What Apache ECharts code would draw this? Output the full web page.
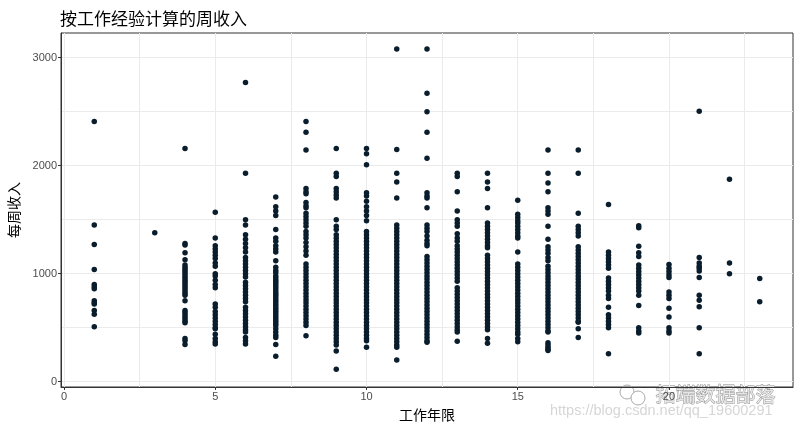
<!DOCTYPE html>
<html>
<head>
<meta charset="utf-8">
<script src="https://cdn.jsdelivr.net/npm/echarts@6/dist/echarts.min.js"></script>
<style>
html,body{margin:0;padding:0;background:#fff;}
#chart{width:800px;height:431px;}
</style>
</head>
<body>
<div id="chart"></div>
<script>
// ---- data ----
const chartTitle = '按工作经验计算的周收入';
const xTitle = '工作年限';
const yTitle = '每周收入';
const xTicks = [0, 5, 10, 15, 20];
const yTicks = [0, 1000, 2000, 3000];

const years = [1, 3, 4, 5, 6, 7, 8, 9, 10, 11, 12, 13, 14, 15, 16, 17, 18, 19, 20, 21, 22, 23];

const inc1 = [2410, 1450, 1270, 1040, 900, 880, 860, 750, 730, 720, 660, 625, 510];
const inc3 = [1380];
const inc4 = [2160, 1280, 1265, 1195, 1130, 1080, 1060, 1040, 1020, 1000, 980, 960, 940, 920, 900, 880, 860, 840, 820, 800, 750, 660, 640, 620, 600, 580, 560, 545, 400, 380, 345];
const inc5 = [1570, 1330, 1260, 1230, 1200, 1170, 1140, 1100, 1070, 1000, 980, 940, 900, 870, 720, 690, 650, 620, 590, 560, 530, 500, 490, 440, 400, 370, 350];
const inc6 = [2770, 1930, 1500, 1450, 1360, 1320, 1280, 1240, 1200, 1150, 1120, 1090, 1060, 1030, 1000, 970, 920, 890, 860, 830, 800, 770, 740, 690, 660, 630, 600, 570, 540, 510, 480, 460, 410, 380, 350];
const inc7 = [1710, 1620, 1580, 1540, 1410, 1330, 1300, 1260, 1230, 1200, 1120, 1060, 1030, 1010, 980, 960, 940, 920, 900, 880, 860, 840, 820, 800, 780, 760, 740, 720, 700, 680, 660, 640, 620, 600, 580, 560, 540, 520, 490, 460, 430, 410, 345, 235];
const inc8 = [2410, 2310, 2145, 1790, 1760, 1740, 1660, 1630, 1610, 1560, 1530, 1500, 1470, 1440, 1390, 1360, 1330, 1290, 1250, 1210, 1170, 1090, 1060, 1030, 1000, 970, 940, 910, 880, 850, 820, 790, 760, 730, 700, 670, 640, 610, 580, 550, 520, 425];
const inc9 = [2160, 1930, 1900, 1790, 1760, 1730, 1700, 1500, 1440, 1410, 1360, 1330, 1300, 1270, 1240, 1210, 1180, 1150, 1120, 1090, 1060, 1030, 1000, 970, 940, 910, 880, 850, 820, 790, 760, 730, 700, 670, 640, 610, 580, 550, 520, 490, 460, 430, 400, 370, 340, 285, 115];
const inc10 = [2160, 2110, 2010, 1750, 1720, 1670, 1620, 1580, 1540, 1490, 1390, 1360, 1330, 1300, 1270, 1240, 1210, 1180, 1150, 1120, 1090, 1060, 1030, 1000, 970, 940, 910, 880, 850, 820, 790, 760, 730, 700, 670, 640, 610, 580, 550, 520, 490, 460, 430, 400, 380, 320];
const inc11 = [3080, 2150, 1930, 1850, 1700, 1450, 1420, 1390, 1360, 1330, 1300, 1270, 1240, 1210, 1180, 1150, 1120, 1090, 1060, 1030, 1000, 970, 940, 910, 880, 850, 820, 790, 760, 730, 700, 670, 640, 610, 580, 550, 520, 490, 460, 430, 400, 370, 340, 320, 200];
const inc12 = [3080, 2670, 2500, 2310, 2070, 1750, 1720, 1700, 1610, 1450, 1420, 1390, 1350, 1310, 1280, 1260, 1160, 1130, 1100, 1070, 1040, 1010, 980, 950, 920, 890, 860, 830, 800, 770, 740, 710, 680, 650, 620, 590, 560, 530, 500, 470, 440, 410, 380, 365];
const inc13 = [1930, 1900, 1760, 1580, 1500, 1470, 1440, 1370, 1330, 1300, 1260, 1230, 1200, 1170, 1140, 1110, 1080, 1050, 1020, 990, 960, 930, 870, 840, 810, 780, 750, 720, 690, 660, 630, 600, 570, 540, 510, 480, 460, 375];
const inc14 = [1930, 1850, 1790, 1610, 1470, 1440, 1410, 1380, 1350, 1320, 1290, 1260, 1240, 1170, 1140, 1110, 1080, 1050, 1020, 990, 960, 930, 900, 870, 840, 810, 780, 750, 720, 690, 660, 630, 600, 570, 540, 510, 480, 400, 355];
const inc15 = [1680, 1550, 1520, 1490, 1470, 1440, 1410, 1380, 1350, 1330, 1200, 1090, 1060, 1030, 1000, 970, 940, 910, 880, 850, 820, 790, 760, 730, 700, 670, 640, 610, 580, 550, 520, 490, 460, 440, 400, 370];
const inc16 = [2145, 1930, 1840, 1760, 1610, 1580, 1550, 1440, 1320, 1250, 1220, 1190, 1150, 1120, 1070, 1040, 1010, 980, 950, 920, 890, 860, 830, 800, 770, 740, 710, 680, 650, 620, 590, 560, 530, 500, 470, 460, 360, 340, 320, 300, 290];
const inc17 = [2145, 1930, 1560, 1440, 1410, 1380, 1350, 1250, 1220, 1190, 1160, 1130, 1100, 1070, 1040, 1010, 980, 950, 920, 890, 860, 830, 800, 770, 740, 710, 680, 650, 620, 590, 560, 550, 490, 410];
const inc18 = [1640, 1200, 1170, 1140, 1110, 1080, 1050, 960, 930, 900, 870, 840, 800, 770, 690, 620, 590, 560, 530, 500, 260];
const inc19 = [1445, 1425, 1255, 1195, 1160, 1080, 1050, 1020, 990, 960, 930, 900, 870, 840, 800, 705, 500, 470, 450];
const inc20 = [1085, 1050, 1020, 990, 965, 830, 800, 770, 680, 600, 500, 470, 450];
const inc21 = [2505, 1150, 1100, 1070, 1050, 1025, 965, 800, 755, 695, 500, 260];
const inc22 = [1875, 1100, 1000];
const inc23 = [955, 740];

const incomeLists = [inc1, inc3, inc4, inc5, inc6, inc7, inc8, inc9, inc10, inc11, inc12, inc13, inc14, inc15, inc16, inc17, inc18, inc19, inc20, inc21, inc22, inc23];

// ---- build points ----
const points = [];
years.forEach((yr, i) => {
  incomeLists[i].forEach(v => points.push([yr, v]));
});

const chart = echarts.init(document.getElementById('chart'), null, {renderer: 'canvas'});
const gridLineColor = '#ebebeb';
const txt = '#4d4d4d';
const font = 'Liberation Sans, Arial, sans-serif';
const cjk = 'Noto Sans CJK SC, sans-serif';

chart.setOption({
  animation: false,
  backgroundColor: '#ffffff',
  title: {
    text: chartTitle,
    left: 55,
    top: 5,
    textStyle: {fontSize: 17, fontWeight: 'normal', color: '#000', fontFamily: cjk}
  },
  grid: {
    left: 61, right: 7, top: 33, bottom: 44,
    containLabel: false,
    outerBoundsMode: 'none',
    show: true, borderColor: '#333333', borderWidth: 1, backgroundColor: '#ffffff'
  },
  xAxis: {
    type: 'value',
    min: -0.1, max: 24.1,
    minInterval: 5, maxInterval: 5, splitNumber: 5,
    name: xTitle,
    nameLocation: 'middle',
    nameGap: 21,
    nameTextStyle: {fontSize: 14, color: '#000', fontFamily: cjk},
    axisLine: {show: true, onZero: false, lineStyle: {color: '#333333', width: 1}},
    axisTick: {show: true, length: 3, customValues: xTicks, lineStyle: {color: '#333333'}},
    axisLabel: {customValues: xTicks, margin: 4, fontSize: 11, color: txt, fontFamily: font,
      formatter: v => String(v)},
    splitLine: {show: true, lineStyle: {color: gridLineColor, width: 1}},
    minorTick: {show: false, splitNumber: 2},
    minorSplitLine: {show: true, lineStyle: {color: gridLineColor, width: 1}}
  },
  yAxis: {
    type: 'value',
    min: -49, max: 3229,
    minInterval: 1000, maxInterval: 1000, splitNumber: 3,
    name: yTitle,
    nameLocation: 'middle',
    nameGap: 40,
    nameRotate: 90,
    nameTextStyle: {fontSize: 14, color: '#000', fontFamily: cjk},
    axisLine: {show: true, onZero: false, lineStyle: {color: '#333333', width: 1}},
    axisTick: {show: true, length: 3, customValues: yTicks, lineStyle: {color: '#333333'}},
    axisLabel: {customValues: yTicks, margin: 4, fontSize: 11, color: txt, fontFamily: font,
      formatter: v => String(v)},
    splitLine: {show: true, lineStyle: {color: gridLineColor, width: 1}},
    minorTick: {show: false, splitNumber: 2},
    minorSplitLine: {show: true, lineStyle: {color: gridLineColor, width: 1}}
  },
  series: [{
    type: 'scatter',
    data: points,
    symbol: 'circle',
    symbolSize: 5.5,
    itemStyle: {color: '#0a1d2c', opacity: 1},
    emphasis: {disabled: true}
  }],
  graphic: [
    {
      type: 'circle', shape: {cx: 627, cy: 392, r: 7},
      style: {fill: 'none', stroke: '#aaa', lineWidth: 1}
    },
    {
      type: 'circle', shape: {cx: 638, cy: 398, r: 7},
      style: {fill: '#fff', stroke: '#aaa', lineWidth: 1}
    },
    {
      type: 'text', left: 655, top: 384,
      style: {text: '拓端数据部落', fontSize: 20, fill: '#e6e6e6', stroke: '#8a8a8a', lineWidth: 0.8,
        fontFamily: cjk}
    },
    {
      type: 'text', left: 550, top: 403,
      style: {text: 'https://blog.csdn.net/qq_19600291', fontSize: 14.5, fill: '#d6d6d6',
        fontFamily: font}
    }
  ]
});
</script>
</body>
</html>
